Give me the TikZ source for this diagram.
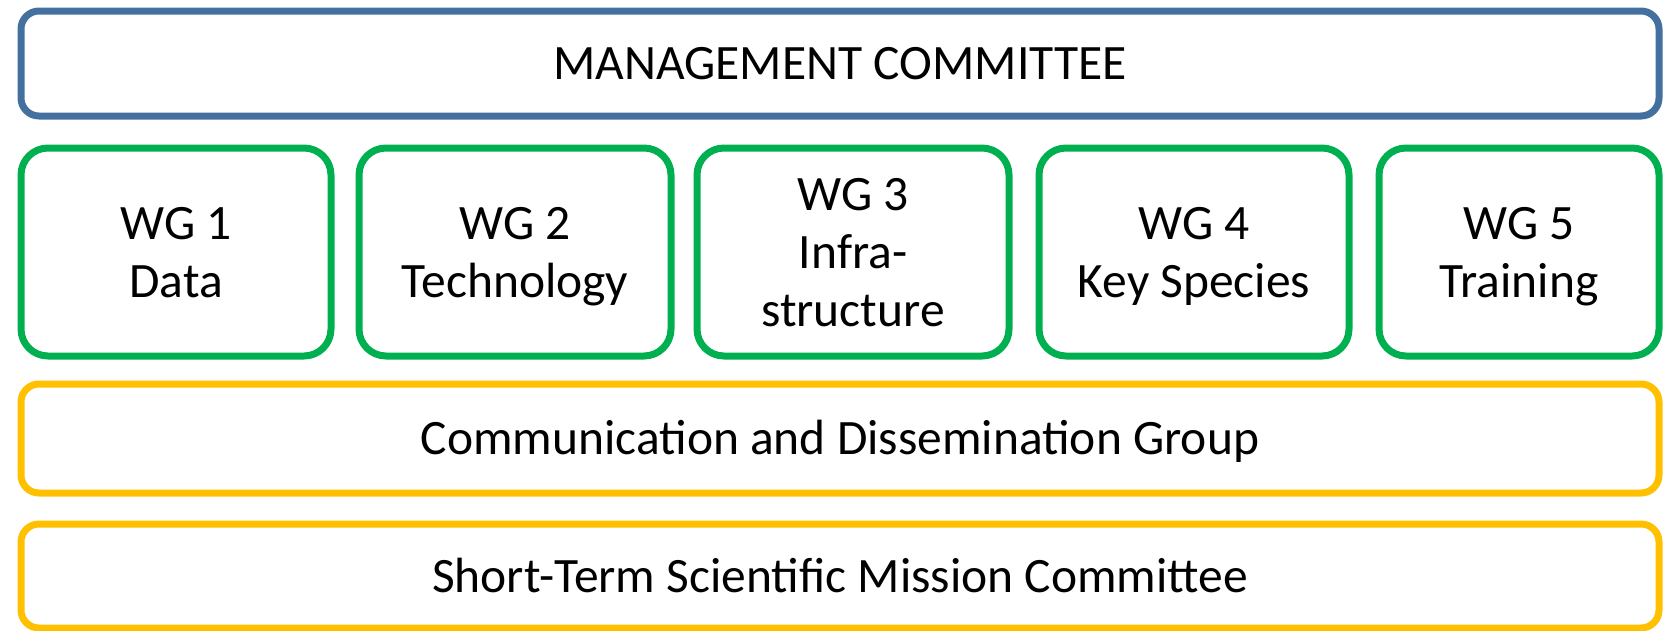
\documentclass[tikz,border=0pt]{standalone}
\usepackage{fontspec}
\setmainfont{Carlito}
\definecolor{mgblue}{HTML}{43709E}
\definecolor{wggreen}{HTML}{00B050}
\definecolor{grpyellow}{HTML}{FFC000}
\newcommand{\lstrut}{\rule[-13pt]{0pt}{58pt}}
\begin{document}
\begin{tikzpicture}[x=1pt,y=-1pt,
  box/.style={draw, line width=7pt, rectangle, inner sep=0pt, align=center,
    font=\fontsize{49.5pt}{58pt}\selectfont, text=black},
  mgbox/.style={box, draw=mgblue, rounded corners=18pt},
  wgbox/.style={box, draw=wggreen, rounded corners=27pt, minimum height=208pt},
  ybox/.style={box, draw=grpyellow, rounded corners=18pt, minimum width=1638pt}]
\useasboundingbox (0,0) rectangle (1670,630);
\node[mgbox, minimum width=1638pt, minimum height=105pt] (mgmt) at (840,63.5) {\lstrut MANAGEMENT COMMITTEE};
\node[wgbox, minimum width=310pt] (wg1) at (176,252) {\lstrut WG 1\\\lstrut Data};
\node[wgbox, minimum width=312pt] (wg2) at (515,252) {\lstrut WG 2\\\lstrut Technology};
\node[wgbox, minimum width=312pt] (wg3) at (853,252) {\lstrut WG 3\\\lstrut Infra-\\\lstrut structure};
\node[wgbox, minimum width=310pt] (wg4) at (1194,252) {\lstrut WG 4\\\lstrut Key Species};
\node[wgbox, minimum width=280pt] (wg5) at (1519,252) {\lstrut WG 5\\\lstrut Training};
\node[ybox, minimum height=109pt] (comm) at (840,438.5) {\lstrut Communication and Dissemination Group};
\node[ybox, minimum height=104pt] (stsm) at (840,576) {\lstrut Short-Term Scientific Mission Committee};
\end{tikzpicture}
\end{document}
